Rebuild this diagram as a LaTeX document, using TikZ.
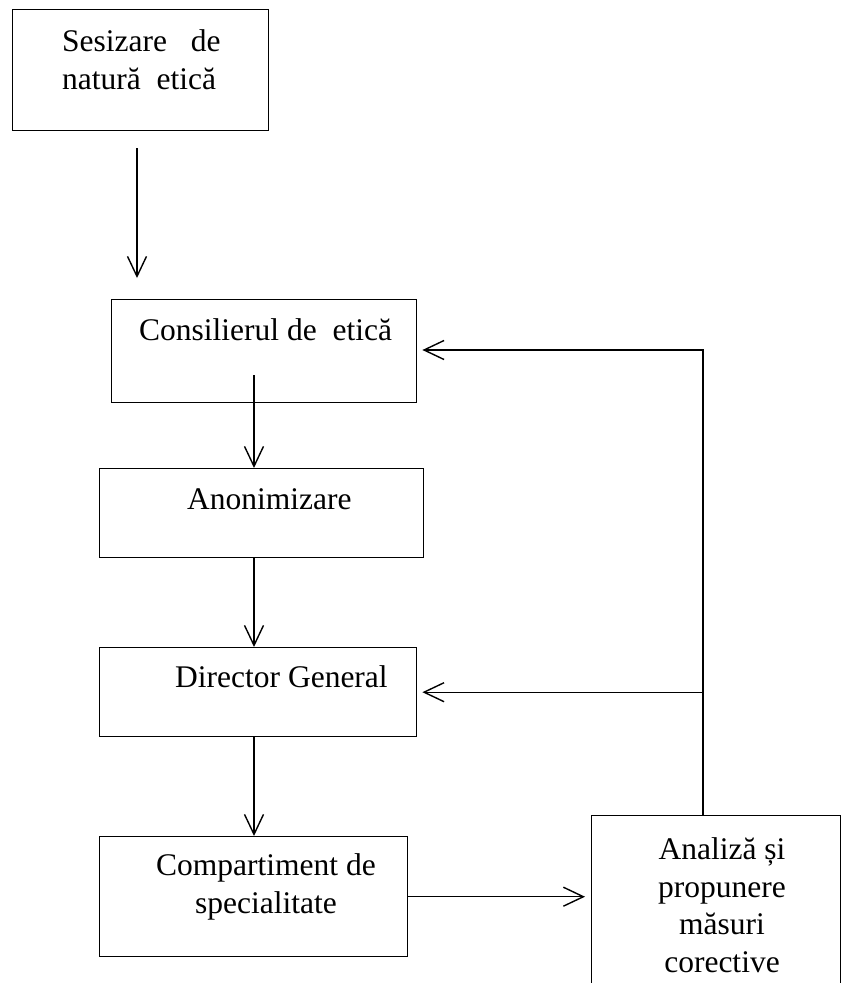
\documentclass[tikz,border=0pt]{standalone}
\usepackage{fontspec}
\setmainfont{Liberation Serif}
\usepackage{tikz}
\usetikzlibrary{arrows.meta,positioning,calc}

\begin{document}
\begin{tikzpicture}[x=1pt,y=-1pt,
    box/.style={draw=black,fill=white,line width=1.4pt,inner sep=0pt,anchor=north west},
    txt/.style={inner sep=0pt,font=\fontsize{31.5}{37.5}\selectfont,align=center},
    arr/.style={line width=1.4pt,-{Straight Barb[length=20pt,width=19pt]}}]
                \useasboundingbox (0,0) rectangle (842,983);
                % Boxes
                \node[box,minimum width=256,minimum height=121] (sesizare) at (12,9) {};
                \node[box,minimum width=305,minimum height=103] (consilier) at (111,299) {};
                \node[box,minimum width=324,minimum height=89] (anonim) at (99,468) {};
                \node[box,minimum width=317,minimum height=89] (director) at (99,647) {};
                \node[box,minimum width=308,minimum height=120] (compart) at (99,836) {};
                \node[box,minimum width=249,minimum height=200] (analiza) at (591,815) {};
                
                % Texts
                \node[txt,anchor=base west,align=left] (tsesizare) at (62,89) {Sesizare\ \ \ de\\natură\ \ etică};
                \node[txt,anchor=base west] (tconsilier) at (139,340) {Consilierul de\ \ etică};
                \node[txt,anchor=base west] (tanonim) at (187,509) {Anonimizare};
                \node[txt,anchor=base west] (tdirector) at (175,687) {Director General};
                \node[txt,anchor=base] (tcompart) at (266,913) {Compartiment de\\specialitate};
                \node[txt,anchor=base] (tanaliza) at (722,972) {Analiză și\\propunere\\măsuri\\corective};
                
                % Arrows down
                \coordinate (s1) at (137,148);
                \coordinate (s2) at (137,278);
                \draw[arr] (s1) -- (s2);
                \coordinate (c2) at (254,375);
                \draw[arr] (c2) -- (c2 |- anonim.north);
                \draw[arr] (c2 |- anonim.south) -- (c2 |- director.north);
                \draw[arr] (c2 |- director.south) -- (c2 |- compart.north);
                \draw[arr,shorten >=6pt] (compart.east) -- (analiza.west |- compart.east);
                
                % Feedback
                \coordinate (fb) at (703,350);
                \draw[arr,shorten >=5pt] (fb |- analiza.north) -- (fb) -- (consilier.east |- fb);
                \draw[arr,shorten >=5pt] (fb |- director.east) -- (director.east);
            \end{tikzpicture}
\end{document}
